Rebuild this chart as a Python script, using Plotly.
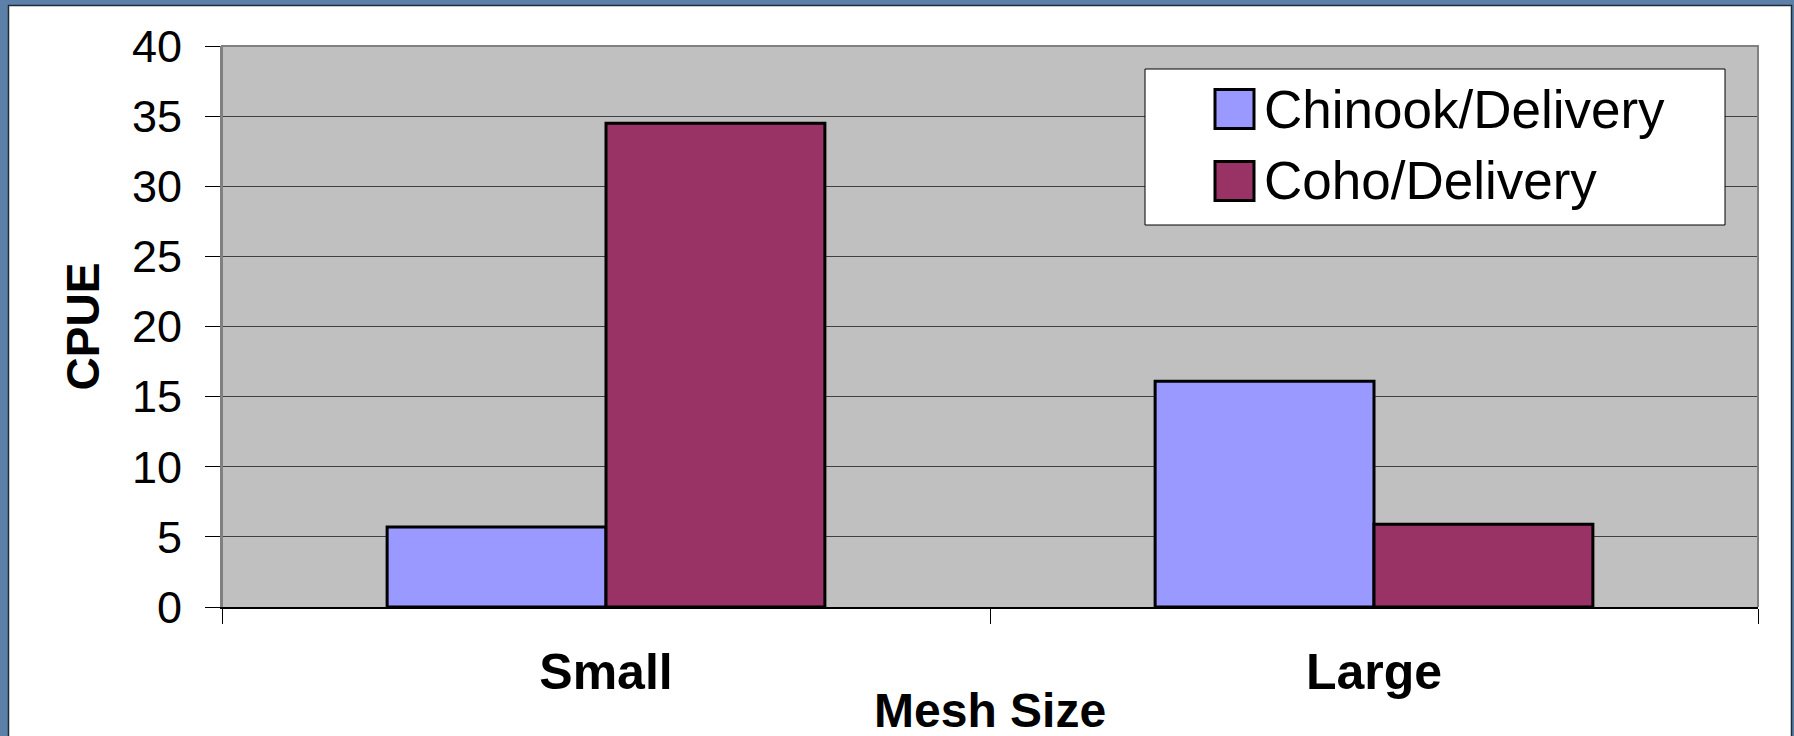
import plotly.graph_objects as go

# Catch per unit effort by mesh size
mesh_sizes = ["Small", "Large"]
series_names = ["Chinook/Delivery", "Coho/Delivery"]
chinook_cpue = [5.7, 16.1]
coho_cpue = [34.5, 5.9]
y_ticks = [0, 5, 10, 15, 20, 25, 30, 35, 40]

colors = ["#9999FF", "#993366"]

W, H = 1794, 736
M_L, M_R, M_T, M_B = 222, 36, 46, 129
PW, PH = W - M_L - M_R, H - M_T - M_B


def px_x(x):
    """Pixel x -> paper fraction."""
    return (x - M_L) / PW


def px_y(y):
    """Pixel y (from top) -> paper fraction."""
    return (H - M_B - y) / PH


fig = go.Figure()
for name, vals, col in zip(series_names, [chinook_cpue, coho_cpue], colors):
    fig.add_trace(go.Bar(
        x=mesh_sizes, y=vals, name=name,
        marker=dict(color=col, line=dict(color="black", width=3)),
        showlegend=False,
    ))

shapes = []
frame_blue = "#5d80a9"
frame_dark = "#1e2b38"
# outer textured frame around the white panel
for x0, y0, x1, y1 in [(0, 0, 8, H), (0, 0, W, 5), (W - 2, 0, W, H)]:
    shapes.append(dict(type="rect", xref="paper", yref="paper",
                       x0=px_x(x0), x1=px_x(x1), y0=px_y(y1), y1=px_y(y0),
                       fillcolor=frame_blue, line=dict(width=0), layer="above"))
shapes.append(dict(type="path", xref="paper", yref="paper",
                   path=f"M{px_x(8.5)},{px_y(H + 5)} L{px_x(8.5)},{px_y(5.5)} "
                        f"L{px_x(W - 2.5)},{px_y(5.5)} L{px_x(W - 2.5)},{px_y(H + 5)}",
                   line=dict(color=frame_dark, width=1.5), layer="above"))
# grey plot-area border (left, top, right)
shapes.append(dict(type="path", xref="paper", yref="paper",
                   path="M0,0 L0,1 L1,1 L1,0",
                   line=dict(color="#808080", width=2), layer="above"))

# legend box
lg_x0, lg_x1, lg_y0, lg_y1 = 1145, 1725, 69, 225
shapes.append(dict(type="rect", xref="paper", yref="paper",
                   x0=px_x(lg_x0), x1=px_x(lg_x1), y0=px_y(lg_y1), y1=px_y(lg_y0),
                   fillcolor="white", line=dict(color="black", width=1), layer="above"))
annotations = []
item_centers = [109, 181]
for name, col, cy in zip(series_names, colors, item_centers):
    shapes.append(dict(type="rect", xref="paper", yref="paper",
                       x0=px_x(1215), x1=px_x(1254), y0=px_y(cy + 19.5), y1=px_y(cy - 19.5),
                       fillcolor=col, line=dict(color="black", width=3), layer="above"))
    annotations.append(dict(xref="paper", yref="paper", x=px_x(1262), y=px_y(cy),
                            xanchor="left", yanchor="middle", showarrow=False,
                            text=name,
                            font=dict(family="Liberation Sans, Arial", size=53, color="black")))

# x-axis title placed under the category labels
annotations.append(dict(xref="paper", yref="paper", x=0.5, y=px_y(739),
                        xanchor="center", yanchor="bottom", showarrow=False,
                        text="<b>Mesh Size</b>",
                        font=dict(family="Liberation Sans, Arial", size=48, color="black")))

fig.update_layout(
    width=W, height=H,
    margin=dict(l=M_L, r=M_R, t=M_T, b=M_B, pad=0),
    paper_bgcolor="white",
    plot_bgcolor="#C0C0C0",
    barmode="group",
    bargap=0.43,
    bargroupgap=0,
    shapes=shapes,
    annotations=annotations,
    font=dict(family="Liberation Sans, Arial", color="black"),
    xaxis=dict(
        categoryorder="array", categoryarray=mesh_sizes,
        tickson="boundaries", ticks="outside", ticklen=15, tickcolor="black", tickwidth=1,
        showline=True, linecolor="black", linewidth=2,
        showgrid=False, automargin=False,
        ticklabelstandoff=20,
        tickfont=dict(size=50, family="Liberation Sans, Arial", weight="bold"),
    ),
    yaxis=dict(
        range=[0, 40], tickvals=y_ticks, ticktext=[str(v) for v in y_ticks],
        ticks="outside", ticklen=15, tickcolor="black", tickwidth=1,
        showline=True, linecolor="#808080", linewidth=2,
        showgrid=True, gridcolor="#404040", gridwidth=1,
        zeroline=False, automargin=False,
        ticklabelstandoff=14,
        tickfont=dict(size=45),
        title=dict(text="<b>CPUE</b>", font=dict(size=46), standoff=18),
    ),
)

fig.write_html("out.html")
